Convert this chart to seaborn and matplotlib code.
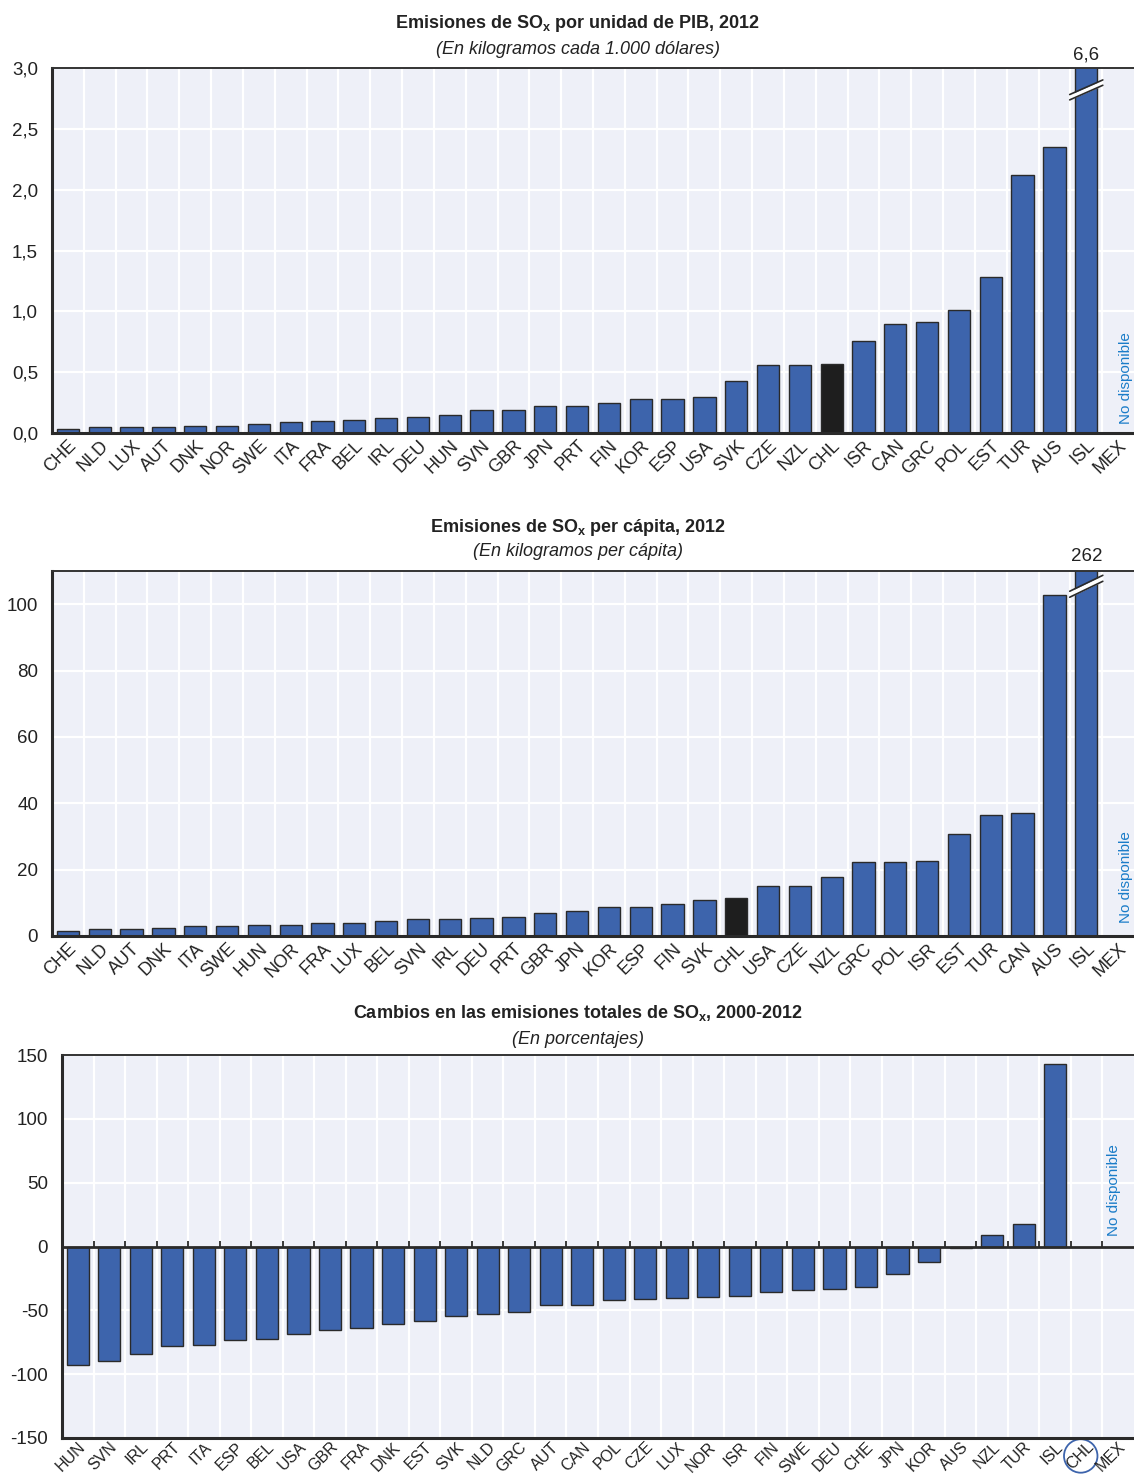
import numpy as np
import pandas as pd
import matplotlib
matplotlib.use("Agg")
import matplotlib.pyplot as plt
from matplotlib.ticker import FixedLocator, FuncFormatter, NullFormatter
import seaborn as sns

# ---------------- data ----------------
cats_gdp = ["CHE", "NLD", "LUX", "AUT", "DNK", "NOR", "SWE", "ITA", "FRA", "BEL", "IRL", "DEU",
            "HUN", "SVN", "GBR", "JPN", "PRT", "FIN", "KOR", "ESP", "USA", "SVK", "CZE", "NZL",
            "CHL", "ISR", "CAN", "GRC", "POL", "EST", "TUR", "AUS", "ISL", "MEX"]
vals_gdp = [0.03, 0.05, 0.05, 0.05, 0.06, 0.06, 0.07, 0.09, 0.10, 0.11, 0.12, 0.13,
            0.15, 0.19, 0.19, 0.22, 0.22, 0.25, 0.28, 0.28, 0.30, 0.43, 0.56, 0.56,
            0.57, 0.76, 0.90, 0.91, 1.01, 1.28, 2.12, 2.35, 6.6, np.nan]

cats_cap = ["CHE", "NLD", "AUT", "DNK", "ITA", "SWE", "HUN", "NOR", "FRA", "LUX", "BEL", "SVN",
            "IRL", "DEU", "PRT", "GBR", "JPN", "KOR", "ESP", "FIN", "SVK", "CHL", "USA", "CZE",
            "NZL", "GRC", "POL", "ISR", "EST", "TUR", "CAN", "AUS", "ISL", "MEX"]
vals_cap = [1.4, 2.0, 2.2, 2.3, 3.0, 3.0, 3.3, 3.4, 3.8, 3.8, 4.4, 5.0,
            5.2, 5.3, 5.8, 6.8, 7.4, 8.7, 8.7, 9.6, 10.9, 11.4, 15.1, 15.1,
            17.7, 22.2, 22.3, 22.6, 30.6, 36.5, 37.0, 102.7, 262, np.nan]

cats_chg = ["HUN", "SVN", "IRL", "PRT", "ITA", "ESP", "BEL", "USA", "GBR", "FRA", "DNK", "EST",
            "SVK", "NLD", "GRC", "AUT", "CAN", "POL", "CZE", "LUX", "NOR", "ISR", "FIN", "SWE",
            "DEU", "CHE", "JPN", "KOR", "AUS", "NZL", "TUR", "ISL", "CHL", "MEX"]
vals_chg = [-93, -89.5, -84, -78, -77, -73, -72.5, -68.8, -65.7, -63.9, -60.5, -58.6,
            -54.7, -52.9, -51, -46, -46, -41.9, -40.8, -40, -39.3, -39, -35.9, -34,
            -33.5, -32, -21.5, -12, -1, 8.9, 17.3, 142.7, np.nan, np.nan]

titles = ["Emisiones de SO$_{\\mathregular{x}}$ por unidad de PIB, 2012",
          "Emisiones de SO$_{\\mathregular{x}}$ per cápita, 2012",
          "Cambios en las emisiones totales de SO$_{\\mathregular{x}}$, 2000-2012"]
subtitles = ["(En kilogramos cada 1.000 dólares)",
             "(En kilogramos per cápita)",
             "(En porcentajes)"]
break_labels = ["6,6", "262"]
na_text = "No disponible"

# ---------------- style ----------------
sns.set_theme(style="white")
plt.rcParams["font.family"] = ["Liberation Sans", "DejaVu Sans"]
plt.rcParams["axes.unicode_minus"] = False

BLUE = "#3D64AC"
DARK = "#1E1E1E"
BG = "#EEF0F8"
EDGE = "#2A2A2A"
NA_COLOR = "#1A7CC8"

W, H = 1134, 1479
fig = plt.figure(figsize=(W / 100, H / 100), dpi=100)


def px_axes(left, top, right, bottom):
    return fig.add_axes([left / W, 1 - bottom / H, (right - left) / W, (bottom - top) / H])


def style_axes(ax, n, ylim, yticks, fmt, zero_ticks=False, xsize=13, xpad=3):
    ax.set_facecolor(BG)
    ax.set_xlim(-0.5, n - 0.5)
    ax.set_ylim(*ylim)
    ax.set_xlabel("")
    ax.set_ylabel("")
    ax.yaxis.set_major_locator(FixedLocator(yticks))
    ax.yaxis.set_major_formatter(FuncFormatter(fmt))
    ax.xaxis.set_minor_locator(FixedLocator(np.arange(n - 1) + 0.5))
    ax.xaxis.set_minor_formatter(NullFormatter())
    ax.grid(False)
    ax.grid(which="minor", axis="x", color="white", lw=1.6, zorder=0)
    ax.grid(which="major", axis="y", color="white", lw=1.6, zorder=0)
    ax.set_axisbelow(True)
    for s in ["left", "bottom"]:
        ax.spines[s].set_color(EDGE)
        ax.spines[s].set_linewidth(2.2)
    ax.spines["top"].set_color("#333333")
    ax.spines["top"].set_linewidth(1.4)
    ax.spines["right"].set_visible(False)
    ax.tick_params(axis="y", which="major", direction="in", length=5, width=1.2,
                   color=EDGE, labelsize=13.5, pad=10, labelcolor="#222222")
    ax.tick_params(axis="x", which="major", length=0, labelsize=xsize, pad=xpad,
                   labelcolor="#222222")
    if zero_ticks:
        ax.tick_params(axis="x", which="minor", length=0)
    else:
        ax.tick_params(axis="x", which="minor", direction="in", length=6, width=1.3, color=EDGE)
    for lab in ax.get_xticklabels():
        lab.set_rotation(45)
        lab.set_ha("right")
        lab.set_rotation_mode("anchor")


fmt_dec = lambda v, p: f"{v:.1f}".replace(".", ",")
fmt_int = lambda v, p: f"{v:.0f}"


def draw_bars(ax, cats, vals, highlight=None):
    df = pd.DataFrame({"pais": cats, "valor": vals})
    pal = {c: (DARK if c == highlight else BLUE) for c in cats}
    sns.barplot(data=df, x="pais", y="valor", hue="pais", order=cats, hue_order=cats,
                palette=pal, legend=False, width=0.70, edgecolor=EDGE, linewidth=1.0,
                saturation=1, ax=ax, zorder=2)


def break_mark(ax, xi, y0, y1, gap):
    xs = [xi - 0.52, xi + 0.52]
    ax.fill_between(xs, [y0 - gap, y1 - gap], [y0 + gap, y1 + gap], color="white",
                    zorder=4, clip_on=False, lw=0)
    for off in (-gap, gap):
        ax.plot(xs, [y0 + off, y1 + off], color=EDGE, lw=1.2, zorder=5, clip_on=False)


na_font = dict(rotation=90, ha="center", va="bottom", color=NA_COLOR, fontsize=11)

# ---------------- panel 1 ----------------
ax1 = px_axes(52, 68, 1134, 433)
draw_bars(ax1, cats_gdp, vals_gdp, highlight="CHL")
style_axes(ax1, len(cats_gdp), (0, 3.0), np.arange(0, 3.01, 0.5), fmt_dec)
i_isl = cats_gdp.index("ISL")
break_mark(ax1, i_isl, 2.76, 2.88, 0.022)
ax1.text(i_isl, 3.04, break_labels[0], ha="center", va="bottom", fontsize=13.5, color="#222222")
ax1.text(cats_gdp.index("MEX") + 0.25, 0.07, na_text, **na_font)

# ---------------- panel 2 ----------------
ax2 = px_axes(52, 571, 1134, 936)
draw_bars(ax2, cats_cap, vals_cap, highlight="CHL")
style_axes(ax2, len(cats_cap), (0, 110), np.arange(0, 101, 20), fmt_int)
i_isl2 = cats_cap.index("ISL")
break_mark(ax2, i_isl2, 103.0, 107.8, 0.9)
ax2.text(i_isl2, 111.8, break_labels[1], ha="center", va="bottom", fontsize=13.5, color="#222222")
ax2.text(cats_cap.index("MEX") + 0.25, 4.0, na_text, **na_font)

# ---------------- panel 3 ----------------
ax3 = px_axes(62, 1055, 1134, 1438)
draw_bars(ax3, cats_chg, vals_chg)
style_axes(ax3, len(cats_chg), (-150, 150), np.arange(-150, 151, 50), fmt_int,
           zero_ticks=True, xsize=11.5, xpad=1)
ax3.axhline(0, color=EDGE, lw=2.0, zorder=3)
ax3.vlines(np.arange(len(cats_chg) - 1) + 0.5, 0, 4.5, color=EDGE, lw=1.3, zorder=3)
ax3.text(cats_chg.index("CHL") + 0.85, 8.5, na_text, **na_font)
for lab in ax3.get_xticklabels():
    if lab.get_text() == "CHL":
        lab.set_bbox(dict(boxstyle="circle,pad=0.05", fc="none", ec=BLUE, lw=1.3))

# ---------------- titles ----------------
cx = 578 / W
for (ty, sy), t, s in zip([(23, 49), (527, 552), (1013, 1039)], titles, subtitles):
    fig.text(cx, 1 - ty / H, t, ha="center", va="center", fontsize=13, fontweight="bold",
             color="#222222")
    fig.text(cx, 1 - sy / H, s, ha="center", va="center", fontsize=13, style="italic",
             color="#222222")

fig.savefig("out.png", dpi=100)
